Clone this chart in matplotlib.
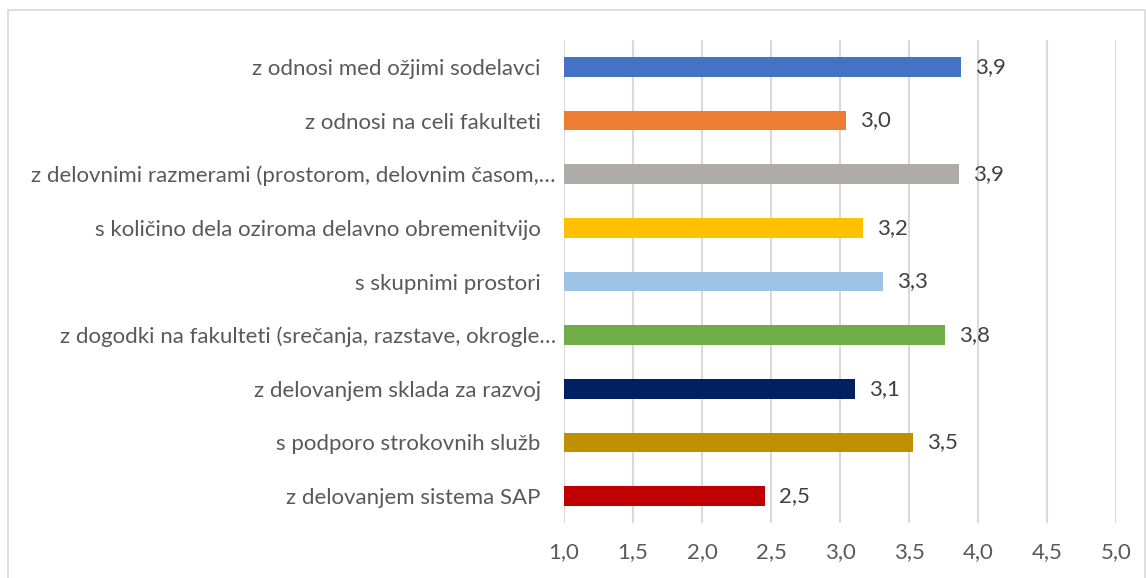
import matplotlib
matplotlib.use("Agg")
import matplotlib.pyplot as plt
from matplotlib.patches import Rectangle
from matplotlib.transforms import ScaledTranslation

categories = [
    "z odnosi med ožjimi sodelavci",
    "z odnosi na celi fakulteti",
    "z delovnimi razmerami (prostorom, delovnim časom,…",
    "s količino dela oziroma delavno obremenitvijo",
    "s skupnimi prostori",
    "z dogodki na fakulteti (srečanja, razstave, okrogle…",
    "z delovanjem sklada za razvoj",
    "s podporo strokovnih služb",
    "z delovanjem sistema SAP",
]
values = [3.88, 3.04, 3.86, 3.17, 3.31, 3.76, 3.11, 3.53, 2.46]
colors = ["#4472C4", "#ED7D31", "#AFABAB", "#FFC000", "#9DC3E6",
          "#70AD47", "#002060", "#BF9000", "#C00000"]
xticks = [1.0, 1.5, 2.0, 2.5, 3.0, 3.5, 4.0, 4.5, 5.0]

plt.rcParams['font.family'] = ['Lato', 'DejaVu Sans']

W, H = 1146, 578
fig = plt.figure(figsize=(W / 100, H / 100), dpi=100)
ax = fig.add_axes([564 / W, 1 - 523 / H, (1116 - 564) / W, (523 - 40) / H])

ypos = list(range(len(categories)))
ax.barh(ypos, [v - 1.0 for v in values], left=1.0, height=0.37,
        color=colors, zorder=3)
ax.set_xlim(1.0, 5.0)
ax.set_ylim(len(categories) - 0.5, -0.5)
ax.set_xticks(xticks)
ax.set_xticklabels([f"{t:.1f}".replace(".", ",") for t in xticks])
ax.set_yticks(ypos)
ax.set_yticklabels(categories)
ax.grid(axis='x', color='#D9D9D9', linewidth=1.5, zorder=0)
ax.tick_params(axis='both', length=0, labelsize=16, labelcolor='#595959')
ax.tick_params(axis='y', pad=6)
ax.tick_params(axis='x', pad=14)
for s in ax.spines.values():
    s.set_visible(False)

# non-truncated labels sit a little further left (trailing space in source)
for lbl in ax.get_yticklabels():
    if not lbl.get_text().endswith("…"):
        lbl.set_transform(lbl.get_transform() +
                          ScaledTranslation(-15 / 100, 0, fig.dpi_scale_trans))

for y, v in zip(ypos, values):
    ax.annotate(f"{v:.1f}".replace(".", ","), xy=(v, y), xytext=(14, 0),
                textcoords='offset pixels',
                va='center', ha='left', fontsize=16, color='#404040')

fig.patches.append(Rectangle((8 / W, -0.05), (W - 9) / W, 1.05 - 10 / H,
                             transform=fig.transFigure, fill=False,
                             edgecolor='#D9D9D9', linewidth=1.2))

fig.savefig("out.png", dpi=100)
